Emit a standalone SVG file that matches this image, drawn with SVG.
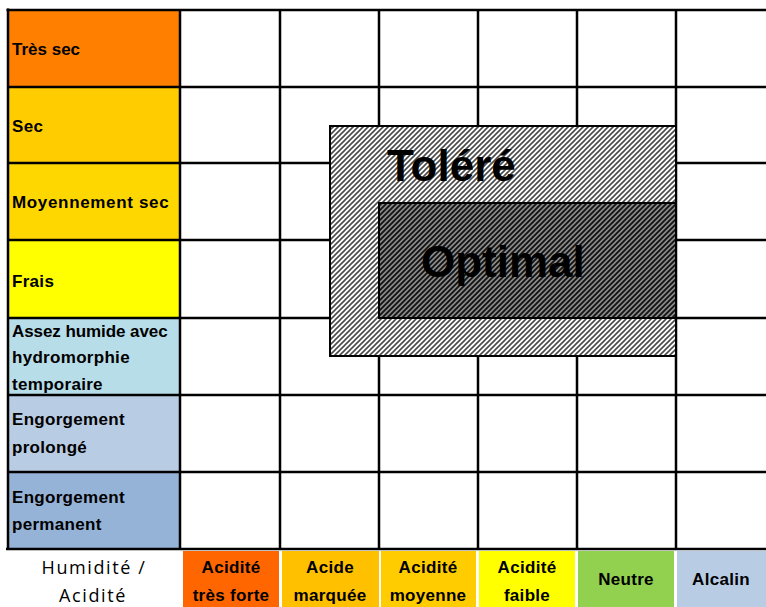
<svg xmlns="http://www.w3.org/2000/svg" width="766" height="607" viewBox="0 0 766 607">
<style>
.lbl{font-family:"Liberation Sans",Arial,sans-serif;font-weight:bold;font-size:17px;letter-spacing:0.3px;fill:#000}
.bot{font-family:"Liberation Sans",Arial,sans-serif;font-weight:bold;font-size:17px;letter-spacing:0.3px;fill:#000;text-anchor:middle}
.axis{font-family:"Open Sans","Liberation Sans",sans-serif;font-size:18px;fill:#000;text-anchor:middle;letter-spacing:1.6px}
.big{font-family:"Liberation Sans",Arial,sans-serif;font-weight:bold;font-size:44px;fill:#000}
.g{stroke:#000;stroke-width:2.5;fill:none}
</style>
<defs>
<pattern id="hLight" patternUnits="userSpaceOnUse" width="5" height="5">
<rect width="5" height="5" fill="#fff"/>
<path d="M-1,1 l2,-2 M0,5 l5,-5 M4,6 l2,-2" stroke="#4a4a4a" stroke-width="1.6"/>
</pattern>
<pattern id="hDark" patternUnits="userSpaceOnUse" width="5" height="5">
<rect width="5" height="5" fill="#8a8a8a"/>
<path d="M-1,1 l2,-2 M0,5 l5,-5 M4,6 l2,-2" stroke="#111" stroke-width="1.8"/>
</pattern>
</defs>
<rect width="766" height="607" fill="#fff"/>

<g id="row-tres-sec"><rect x="8" y="10" width="172" height="77" fill="#FF8000"/><text class="lbl" x="12" y="55" style="letter-spacing:0">Très sec</text></g>
<g id="row-sec"><rect x="8" y="87" width="172" height="76" fill="#FFCC00"/><text class="lbl" x="12" y="132">Sec</text></g>
<g id="row-moyennement-sec"><rect x="8" y="163" width="172" height="77" fill="#FFD700"/><text class="lbl" x="12" y="208" textLength="157">Moyennement sec</text></g>
<g id="row-frais"><rect x="8" y="240" width="172" height="78" fill="#FFFF00"/><text class="lbl" x="12" y="287">Frais</text></g>
<g id="row-assez-humide"><rect x="8" y="318" width="172" height="77" fill="#B7DDE8"/><text class="lbl" x="12" y="337" textLength="156">Assez humide avec</text><text class="lbl" x="12" y="363">hydromorphie</text><text class="lbl" x="12" y="390">temporaire</text></g>
<g id="row-engorgement-prolonge"><rect x="8" y="395" width="172" height="77" fill="#B8CCE4"/><text class="lbl" x="12" y="425">Engorgement</text><text class="lbl" x="12" y="453">prolongé</text></g>
<g id="row-engorgement-permanent"><rect x="8" y="472" width="172" height="76" fill="#95B3D7"/><text class="lbl" x="12" y="503">Engorgement</text><text class="lbl" x="12" y="530">permanent</text></g>

<g id="axis-label"><text class="axis" x="94" y="574">Humidité /</text><text class="axis" x="93" y="602">Acidité</text></g>
<g id="col-acidite-tres-forte"><rect x="183" y="551" width="96" height="56" fill="#FF6600"/><text class="bot" x="231" y="573">Acidité</text><text class="bot" x="231" y="601">très forte</text></g>
<g id="col-acide-marquee"><rect x="282" y="551" width="97" height="56" fill="#FFC000"/><text class="bot" x="330" y="573">Acide</text><text class="bot" x="330" y="601">marquée</text></g>
<g id="col-acidite-moyenne"><rect x="381" y="551" width="95" height="56" fill="#FFCC00"/><text class="bot" x="428" y="573">Acidité</text><text class="bot" x="428" y="601">moyenne</text></g>
<g id="col-acidite-faible"><rect x="479" y="551" width="96" height="56" fill="#FFFF00"/><text class="bot" x="527" y="573">Acidité</text><text class="bot" x="527" y="601">faible</text></g>
<g id="col-neutre"><rect x="578" y="551" width="96" height="56" fill="#92D050"/><text class="bot" x="626" y="585">Neutre</text></g>
<g id="col-alcalin"><rect x="677" y="551" width="89" height="56" fill="#B8CCE4"/><text class="bot" x="721" y="585">Alcalin</text></g>

<g id="grid">
<path class="g" d="M280,10V548 M379,10V548 M478,10V548 M577,10V548 M676,10V548"/>
<path class="g" d="M8,87H766 M8,163H766 M8,240H766 M8,318H766 M8,395H766 M8,472H766"/>
<path class="g" d="M6.5,10H766" stroke-width="3"/>
<path class="g" d="M8,8.5V550" stroke-width="3.5"/>
<path class="g" d="M180,10V550" stroke-width="3.5"/>
<path class="g" d="M6,549H766" stroke-width="4"/>
</g>

<g id="tolere">
<rect x="330" y="126" width="346" height="230" fill="url(#hLight)" stroke="#000" stroke-width="2"/>
<text class="big" x="387" y="181">Toléré</text>
</g>
<g id="optimal">
<rect x="379" y="203" width="297" height="115" fill="url(#hDark)" stroke="#000" stroke-width="2"/>
<text class="big" x="421" y="277">Optimal</text>
</g>
</svg>
